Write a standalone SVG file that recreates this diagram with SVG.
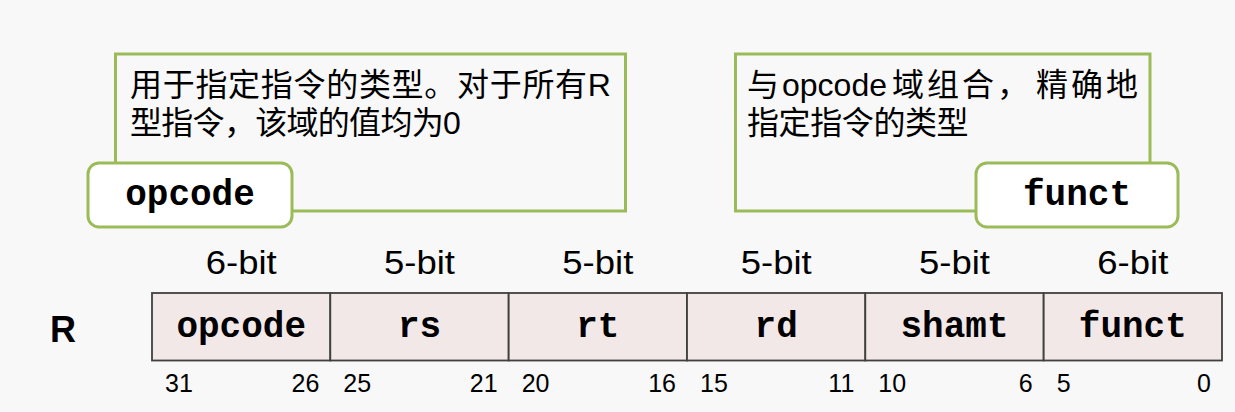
<svg xmlns="http://www.w3.org/2000/svg" width="1235" height="412" viewBox="0 0 1235 412">
<style>
.bg{fill:#f8f8f8}
.desc{fill:#f8f8f8;stroke:#9bbb59;stroke-width:3}
.tag{fill:#ffffff;stroke:#9bbb59;stroke-width:3}
.cjk{font-family:"Liberation Sans","Noto Sans CJK SC",sans-serif;font-size:32px;fill:#000}
.mono{font-family:"Courier New","Liberation Mono",monospace;font-weight:bold;font-size:36px;fill:#000;text-anchor:middle}
.cell{fill:#f3e8e8;stroke:#404040;stroke-width:1.8}
.bits{font-family:"Liberation Sans",Arial,sans-serif;font-size:33px;fill:#000;text-anchor:middle}
.num{font-family:"Liberation Sans",Arial,sans-serif;font-size:25px;fill:#000}
.end{text-anchor:end}
.rlab{font-family:"Liberation Sans",Arial,sans-serif;font-size:36px;font-weight:bold;fill:#000}
</style>
<rect class="bg" x="0" y="0" width="1235" height="412"/>
<g id="connectors"/>
<g id="callout-opcode">
<rect class="desc" x="115.5" y="54" width="510" height="157"/>
<text class="cjk" y="96" x="130 162.7 195.4 228.1 260.8 293.5 326.2 358.9 391.6 424.3 457 489.7 522.4 555.1 587.8">用于指定指令的类型。对于所有R</text>
<text class="cjk" y="134" x="130 161.3 192.6 223.9 255.2 286.5 317.8 349.1 380.4 411.7 443">型指令，该域的值均为0</text>
<rect class="tag" x="88" y="163" width="204" height="64" rx="11"/>
<text class="mono" x="190" y="205">opcode</text>
</g>
<g id="callout-funct">
<rect class="desc" x="735.5" y="54" width="414.5" height="157"/>
<text class="cjk" y="96"><tspan x="747">与</tspan><tspan x="782">opcode</tspan><tspan x="892 927 962 997 1036 1071 1106">域组合，精确地</tspan></text>
<text class="cjk" y="134" x="747 778.6 810.2 841.8 873.4 905 936.6">指定指令的类型</text>
<rect class="tag" x="976" y="163" width="202" height="64" rx="11"/>
<text class="mono" x="1077" y="205">funct</text>
</g>
<g id="row-label">
<text class="rlab" x="50" y="342">R</text>
</g>
<g id="field-opcode">
<rect class="cell" x="152" y="293" width="178.3" height="67.5"/>
<text class="bits" x="241.2" y="274" textLength="71" lengthAdjust="spacingAndGlyphs">6-bit</text>
<text class="mono" x="241.2" y="337">opcode</text>
<text class="num" x="165" y="392">31</text>
<text class="num end" x="319.3" y="392">26</text>
</g>
<g id="field-rs">
<rect class="cell" x="330.3" y="293" width="178.3" height="67.5"/>
<text class="bits" x="419.5" y="274" textLength="71" lengthAdjust="spacingAndGlyphs">5-bit</text>
<text class="mono" x="419.5" y="337">rs</text>
<text class="num" x="343.3" y="392">25</text>
<text class="num end" x="497.6" y="392">21</text>
</g>
<g id="field-rt">
<rect class="cell" x="508.7" y="293" width="178.3" height="67.5"/>
<text class="bits" x="597.8" y="274" textLength="71" lengthAdjust="spacingAndGlyphs">5-bit</text>
<text class="mono" x="597.8" y="337">rt</text>
<text class="num" x="521.7" y="392">20</text>
<text class="num end" x="676" y="392">16</text>
</g>
<g id="field-rd">
<rect class="cell" x="687" y="293" width="178.3" height="67.5"/>
<text class="bits" x="776.2" y="274" textLength="71" lengthAdjust="spacingAndGlyphs">5-bit</text>
<text class="mono" x="776.2" y="337">rd</text>
<text class="num" x="700" y="392">15</text>
<text class="num end" x="854.3" y="392">11</text>
</g>
<g id="field-shamt">
<rect class="cell" x="865.3" y="293" width="178.3" height="67.5"/>
<text class="bits" x="954.5" y="274" textLength="71" lengthAdjust="spacingAndGlyphs">5-bit</text>
<text class="mono" x="954.5" y="337">shamt</text>
<text class="num" x="878.3" y="392">10</text>
<text class="num end" x="1032.6" y="392">6</text>
</g>
<g id="field-funct">
<rect class="cell" x="1043.7" y="293" width="178.3" height="67.5"/>
<text class="bits" x="1132.8" y="274" textLength="71" lengthAdjust="spacingAndGlyphs">6-bit</text>
<text class="mono" x="1132.8" y="337">funct</text>
<text class="num" x="1056.7" y="392">5</text>
<text class="num end" x="1211" y="392">0</text>
</g>
</svg>
